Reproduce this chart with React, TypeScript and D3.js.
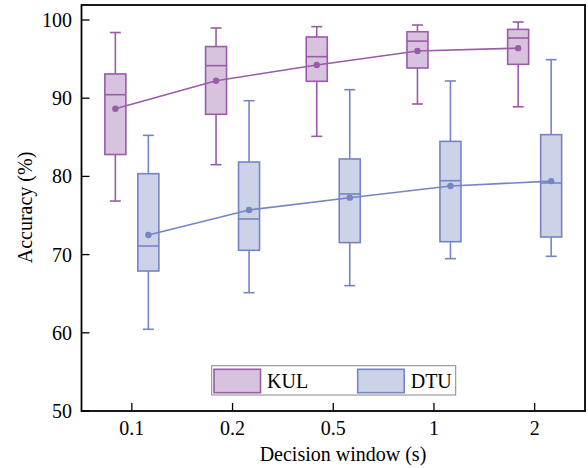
import React from "react";
import * as d3 from "d3";

const categories = ["0.1", "0.2", "0.5", "1", "2"];
const yTicks = [50, 60, 70, 80, 90, 100];

// [lowerWhisker, q1, median, q3, upperWhisker]
const kulStats = [
  [76.85, 82.8, 90.45, 93.1, 98.4],
  [81.5, 87.94, 94.16, 96.6, 98.98],
  [85.12, 92.16, 95.31, 97.83, 99.15],
  [89.26, 93.86, 97.3, 98.5, 99.36],
  [88.9, 94.33, 97.7, 98.8, 99.74],
];
const kulMeans = [88.66, 92.24, 94.25, 96.04, 96.4];

const dtuStats = [
  [60.45, 67.9, 71.1, 80.35, 85.25],
  [65.13, 70.55, 74.55, 81.84, 89.68],
  [66.03, 71.53, 77.75, 82.23, 91.09],
  [69.48, 71.65, 79.45, 84.48, 92.2],
  [69.78, 72.25, 79.16, 85.34, 94.93],
];
const dtuMeans = [72.5, 75.7, 77.28, 78.77, 79.4];

const seriesNames = ["KUL", "DTU"];

const W = 588, H = 468;
const left = 81.5, right = 585, top = 5, bottom = 411;
const FONT = "'Liberation Serif', 'Times New Roman', serif";

const series = [
  { name: seriesNames[0], stats: kulStats, means: kulMeans, stroke: "#9a5ba8", fill: "#d8c3df", offset: -16.5 },
  { name: seriesNames[1], stats: dtuStats, means: dtuMeans, stroke: "#7585c2", fill: "#ccd2e8", offset: 16.5 },
];

export default function App() {
  const x = d3.scaleBand<string>().domain(categories).range([left, right]).padding(0);
  const y = d3.scaleLinear().domain([50, 50 + (bottom - top) / 7.82]).range([bottom, top]);
  const cx = (c: string) => (x(c) as number) + x.bandwidth() / 2;
  const boxW = 21;
  const capW = 11;

  return (
    <svg width={W} height={H} style={{ position: "absolute", left: 0, top: 0 }} fontFamily={FONT}>
      <rect x={0} y={0} width={W} height={H} fill="#fff" />
      {series.map((s) => {
        const line = d3
          .line<number>()
          .x((_, i) => cx(categories[i]) + s.offset)
          .y((d) => y(d));
        return (
          <g key={s.name}>
            {s.stats.map((st, i) => {
              const c = cx(categories[i]) + s.offset;
              const [lo, q1, med, q3, hi] = st;
              return (
                <g key={i} stroke={s.stroke} strokeWidth={1.6}>
                  <line x1={c} x2={c} y1={y(hi)} y2={y(q3)} />
                  <line x1={c} x2={c} y1={y(q1)} y2={y(lo)} />
                  <line x1={c - capW / 2} x2={c + capW / 2} y1={y(hi)} y2={y(hi)} />
                  <line x1={c - capW / 2} x2={c + capW / 2} y1={y(lo)} y2={y(lo)} />
                  <rect x={c - boxW / 2} y={y(q3)} width={boxW} height={y(q1) - y(q3)} fill={s.fill} />
                  <line x1={c - boxW / 2} x2={c + boxW / 2} y1={y(med)} y2={y(med)} />
                </g>
              );
            })}
            <path d={line(s.means) || ""} fill="none" stroke={s.stroke} strokeWidth={1.6} />
            {s.means.map((m, i) => (
              <circle key={i} cx={cx(categories[i]) + s.offset} cy={y(m)} r={3.2} fill={s.stroke} />
            ))}
          </g>
        );
      })}

      {/* frame */}
      <rect x={left} y={top} width={right - left} height={bottom - top} fill="none" stroke="#000" strokeWidth={1.8} />

      {/* y ticks */}
      {yTicks.map((t) => (
        <g key={t}>
          <line x1={left} x2={left + 8} y1={y(t)} y2={y(t)} stroke="#000" strokeWidth={1.3} />
          <text x={72} y={y(t)} dy="0.35em" textAnchor="end" fontSize={20} fill="#000">
            {t}
          </text>
        </g>
      ))}
      {/* x ticks */}
      {categories.map((c) => (
        <g key={c}>
          <line x1={cx(c)} x2={cx(c)} y1={bottom} y2={bottom - 8} stroke="#000" strokeWidth={1.3} />
          <text x={cx(c)} y={435} textAnchor="middle" fontSize={20} fill="#000">
            {c}
          </text>
        </g>
      ))}

      <text x={343} y={461} textAnchor="middle" fontSize={20} fill="#000">
        Decision window (s)
      </text>
      <text
        transform={`translate(32, 207.5) rotate(-90)`}
        textAnchor="middle"
        fontSize={20}
        fill="#000"
      >
        Accuracy (%)
      </text>

      {/* legend */}
      <rect x={211.7} y={365.7} width={244} height={29.3} fill="#fff" stroke="#888" strokeWidth={1} />
      {series.map((s, i) => {
        const px = i === 0 ? 214 : 357.7;
        return (
          <g key={s.name}>
            <rect x={px} y={369.3} width={46.5} height={23.4} fill={s.fill} stroke={s.stroke} strokeWidth={1.6} />
            <text x={px + 53} y={388} fontSize={20} fill="#000">
              {s.name}
            </text>
          </g>
        );
      })}
    </svg>
  );
}
